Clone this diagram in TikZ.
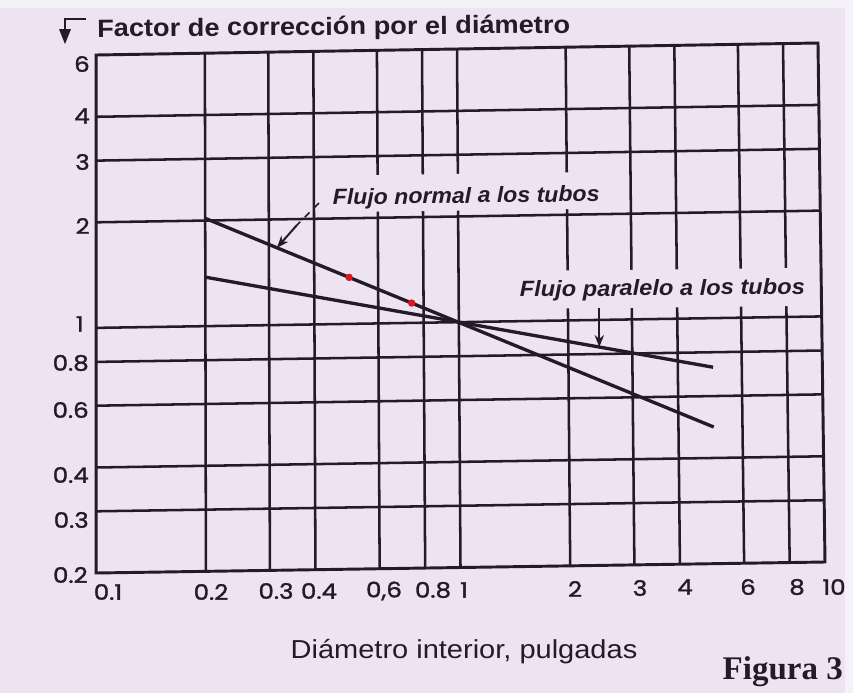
\documentclass[tikz,border=0pt]{standalone}
\usepackage{fontspec}
\setmainfont{Liberation Sans}
\newfontfamily\tickfont{Poppins}[FakeBold=1.3]
\newfontfamily\figfont{Liberation Serif}
\usetikzlibrary{arrows.meta,calc}
\definecolor{paper}{RGB}{236,228,240}
\definecolor{paperedge}{RGB}{245,241,248}
\definecolor{ink}{RGB}{36,26,40}
\definecolor{dotred}{RGB}{222,22,34}
\newcommand\fitw[2]{\resizebox{#1}{\height}{#2}}
\newcommand\tk[1]{\scalebox{1.15}[1]{#1}}
% data point (x,y) on the log-log chart -> named coordinate
\newcommand\defpt[3]{%
  \pgfmathsetmacro\myuu{(log10(#2)+1)/2}%
  \pgfmathsetmacro\myvv{log10(#3/0.2)/log10(30)}%
  \pgfmathsetmacro\mypx{(1-\myvv)*((1-\myuu)*96+\myuu*825)+\myvv*((1-\myuu)*96+\myuu*818)}%
  \pgfmathsetmacro\mypy{(1-\myvv)*((1-\myuu)*573+\myuu*562)+\myvv*((1-\myuu)*55+\myuu*43)}%
  \coordinate (#1) at (\mypx,\mypy);}
\begin{document}
\begin{tikzpicture}[x=0.75pt,y=-0.75pt,
  gridline/.style={draw=ink,line width=1.9pt},
  frameline/.style={draw=ink,line width=2.2pt,line join=miter},
  curve/.style={draw=ink,line width=2.5pt},
  lbl/.style={fill=paper,font=\fontsize{16.5}{20}\selectfont\bfseries\itshape,text=ink,
    inner xsep=2pt,inner ysep=1pt},
  ytick/.style={anchor=east,inner sep=0pt,text=ink,font=\tickfont\fontsize{16}{18}\selectfont},
  xtick/.style={anchor=center,inner sep=0pt,text=ink,font=\tickfont\fontsize{16}{18}\selectfont},
  pointer/.style={draw=ink,line width=1.5pt,-{Stealth[length=9pt,width=7pt]}}]
\fill[paperedge] (0,0) rectangle (853,693);
\fill[paper] (0,8) rectangle (845,693);
\useasboundingbox (0,0) rectangle (853,693);
% corners
\defpt{BL}{0.1}{0.2}
\defpt{BR}{10}{0.2}
\defpt{TL}{0.1}{6}
\defpt{TR}{10}{6}
% horizontal grid
\foreach \yy in {0.3,0.4,0.6,0.8,1,2,3,4}{%
  \defpt{ha}{0.1}{\yy}\defpt{hb}{10}{\yy}
  \draw[gridline] (ha) -- (hb);}
% vertical grid
\foreach \xx in {0.2,0.3,0.4,0.6,0.8,1,2,3,4,6,8}{%
  \defpt{va}{\xx}{0.2}\defpt{vb}{\xx}{6}
  \draw[gridline] (va) -- (vb);}
% frame
\draw[frameline] (BL) -- (BR) -- (TR) -- (TL) -- cycle;
% curves
\defpt{n0}{0.2}{2.03}
\defpt{n1}{5}{0.49}
\defpt{p0}{0.2}{1.38}
\defpt{p1}{5}{0.725}
\draw[curve] (n0) -- (n1);
\draw[curve] (p0) -- (p1);
% red dots
\coordinate (d1) at ($(n0)!0.283!(n1)$);
\coordinate (d2) at ($(n0)!0.406!(n1)$);
\fill[dotred] (d1) circle[radius=2.8pt];
\fill[dotred] (d2) circle[radius=2.8pt];
% labels
\node[lbl,anchor=base west,rotate=0.8,text height=21pt,text depth=4.5pt] (lblN) at (330,205)
  {\fitw{200pt}{Flujo normal a los tubos}};
\node[lbl,anchor=base west,rotate=0.6,text height=18.5pt,text depth=8pt] (lblP) at (517,297)
  {\fitw{213.75pt}{Flujo paralelo a los tubos}};
% pointers
\coordinate (nt) at ($(n0)!0.141!(n1)$);
\coordinate (ls) at (319,203);
\coordinate (lm) at (297,225);
\draw[ink,line width=1.3pt,dash pattern=on 5pt off 5pt] (ls) -- (lm);
\draw[pointer] (lm) -- (nt);
\coordinate (pt) at ($(p0)!0.776!(p1)$);
\draw[pointer] (pt |- lblP.south) -- (pt);
% title
\draw[ink,line width=2pt] (86,19) -- (65,19) -- (65,32);
\fill[ink] (59,29) -- (71,29) -- (65,44) -- cycle;
\node[anchor=base west,inner sep=0pt,text=ink,rotate=0.5,
  font=\fontsize{18.75}{22}\selectfont\bfseries] (title) at (97,37)
  {\fitw{354.75pt}{Factor de corrección por el diámetro}};
% y tick labels
\node[ytick] (y6) at (90,64) {\tk{6}};
\node[ytick] (y4) at (90,116) {\tk{4}};
\node[ytick] (y3) at (90,162) {\tk{3}};
\node[ytick] (y2) at (90,226) {\tk{2}};
\node[ytick] (y1) at (84,324) {\tk{1}};
\node[ytick] (y08) at (89,363) {\tk{0.8}};
\node[ytick] (y06) at (89,410) {\tk{0.6}};
\node[ytick] (y04) at (89,475) {\tk{0.4}};
\node[ytick] (y03) at (89,520) {\tk{0.3}};
\node[ytick] (y02) at (88,575) {\tk{0.2}};
% x tick labels
\node[xtick] (x01) at (108,592) {\tk{0.1}};
\node[xtick] (x02) at (211,592) {\tk{0.2}};
\node[xtick] (x03) at (276,591) {\tk{0.3}};
\node[xtick] (x04) at (319,591) {\tk{0.4}};
\node[xtick] (x06) at (384,591) {\tk{0,6}};
\node[xtick] (x08) at (433,590) {\tk{0.8}};
\node[xtick] (x1) at (464,590) {\tk{1}};
\node[xtick] (x2) at (575,589) {\tk{2}};
\node[xtick] (x3) at (640,588) {\tk{3}};
\node[xtick] (x4) at (685,587) {\tk{4}};
\node[xtick] (x6) at (748,587) {\tk{6}};
\node[xtick] (x8) at (797,587) {\tk{8}};
\node[xtick] (x10) at (834,587) {\tk{10}};
% axis title and figure caption
\node[anchor=base,inner sep=0pt,text=ink,font=\fontsize{19.5}{22}\selectfont] (xt) at (464,658)
  {\fitw{260pt}{Diámetro interior, pulgadas}};
\node[anchor=base east,inner sep=0pt,text=ink,font=\figfont\bfseries\fontsize{24.75}{28}\selectfont] (fig) at (843,679) {Figura 3};
\end{tikzpicture}
\end{document}
